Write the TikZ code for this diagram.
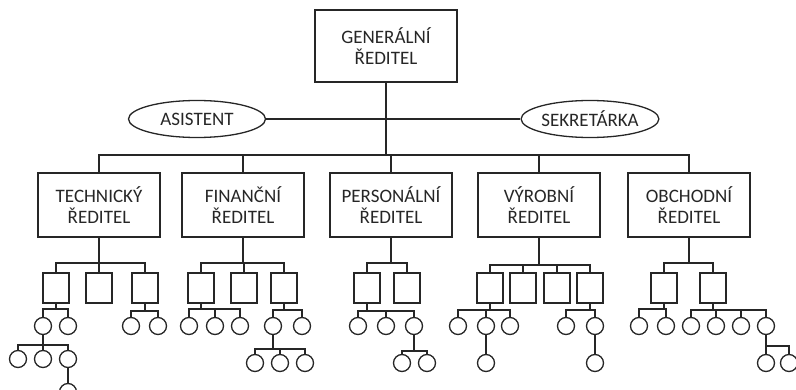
\documentclass[tikz,border=0pt]{standalone}
\usepackage{fontspec}
\setmainfont{Carlito}
\usetikzlibrary{shapes.geometric}

\begin{document}
\begin{tikzpicture}
			[x=1pt,y=-1pt,line width=1.3pt,draw=black!85,
			every node/.style={text=black!85,font=\fontsize{19}{21}\selectfont,align=center},
			chief/.style={draw,minimum width=142,minimum height=72},
			director/.style={draw,minimum width=122,minimum height=64},
			aide/.style={draw,ellipse,minimum width=137,minimum height=37,inner sep=0pt},
			dept/.style={draw,minimum width=26,minimum height=30,inner sep=0pt},
			staff/.style={draw,circle,minimum size=17,inner sep=0pt}]
			\useasboundingbox (0,0) rectangle (796,390);
			\node[chief] (gen) at (386,46) {GENERÁLNÍ\\ŘEDITEL};
			\node[aide] (asi) at (197,119) {ASISTENT};
			\node[aide] (sek) at (590,119) {SEKRETÁRKA};
			\node[director] (tec) at (99,205) {TECHNICKÝ\\ŘEDITEL};
			\node[director] (fin) at (243,205) {FINANČNÍ\\ŘEDITEL};
			\node[director] (per) at (391,205) {PERSONÁLNÍ\\ŘEDITEL};
			\node[director] (vyr) at (539,205) {VÝROBNÍ\\ŘEDITEL};
			\node[director] (obc) at (689,205) {OBCHODNÍ\\ŘEDITEL};
			\foreach \n/\x in {t1/56,t2/99,t3/145,f1/201,f2/244,f3/284,p1/367,p2/407,
				v1/490,v2/523,v3/557,v4/590,o1/664,o2/713}
				\node[dept] (\n) at (\x,288) {};
			\foreach \n/\x/\y in {t11/43/326,t12/68/326,t31/131/326,t32/158/326,
				f11/189/326,f12/215/326,f13/240/326,f31/273/326,f32/302/326,
				p11/358/326,p12/386/326,p13/414/326,v11/458/326,v12/486/326,v13/510/326,
				v41/566/326,v42/595/326,o11/639/326,o12/666/326,o21/691/326,o22/716/326,
				o23/741/326,o24/766/326,t111/18/359,t112/43/359,t113/68/359,t1131/68/392,
				f311/255/363,f312/280/363,f313/305/363,p131/402/363,p132/427/363,
				v121/486/363,v421/595/363,o241/766/363,o242/789/363}
				\node[staff] (\n) at (\x,\y) {};
			\draw (asi) -- (sek);
			\foreach \p/\y/\kids in {gen/155/{tec,fin,per,vyr,obc},
				tec/263/{t1,t2,t3},fin/263/{f1,f2,f3},per/263/{p1,p2},
				vyr/265/{v1,v2,v3,v4},obc/263/{o1,o2},
				t1/309/{t11,t12},t3/311/{t31,t32},f1/309/{f11,f12,f13},f3/310/{f31,f32},
				p1/311/{p11,p12,p13},v1/310/{v11,v12,v13},v4/310/{v41,v42},
				o1/309/{o11,o12},o2/310/{o21,o22,o23,o24},
				t11/345/{t111,t112,t113},t113/375/{t1131},f31/349/{f311,f312,f313},
				p13/351/{p131,p132},v12/345/{v121},v42/345/{v421},o24/346/{o241,o242}}
				\foreach \c in \kids
					\draw (\p.south) -- (\p.south |- 0,\y) -| (\c.north);
		\end{tikzpicture}
\end{document}
